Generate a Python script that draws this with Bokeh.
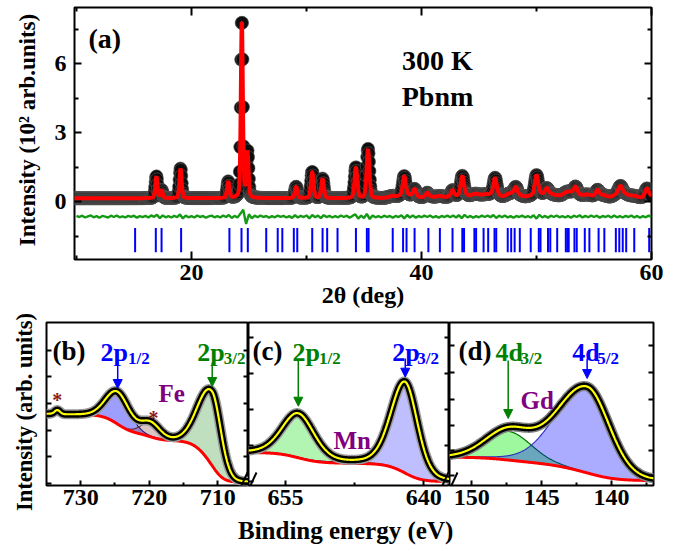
import numpy as np
from bokeh.plotting import figure
from bokeh.models import (Range1d, LinearAxis, FixedTicker, Label, Arrow, NormalHead,
                          CustomJSTickFormatter, Div)
from bokeh.layouts import column, row
from bokeh.embed import file_html
from bokeh.resources import INLINE

FONT = "Liberation Serif"

# ---------------- (a) XRD data ----------------
xrd_peak_pos    = [16.95, 17.40, 19.05, 23.20, 24.38, 24.87, 29.10, 30.50, 31.40, 34.30, 35.35,
                   38.50, 39.40, 40.50, 42.70, 43.55, 46.40, 48.20, 50.00, 50.90, 53.40, 55.30, 57.30, 59.60]
xrd_peak_height = [0.95, 0.35, 1.30, 0.72, 7.85, 2.00, 0.50, 1.15, 0.85, 1.35, 2.15,
                   0.80, 0.30, 0.15, 0.25, 0.80, 0.70, 0.30, 0.85, 0.25, 0.30, 0.25, 0.30, 0.35]
xrd_peak_fwhm   = [0.22, 0.22, 0.22, 0.24, 0.20, 0.22, 0.26, 0.26, 0.26, 0.28, 0.28,
                   0.30, 0.30, 0.30, 0.30, 0.32, 0.32, 0.32, 0.34, 0.34, 0.36, 0.36, 0.38, 0.38]
xrd_background = 0.15
bragg_pos = [15.1, 16.9, 17.4, 19.1, 23.3, 24.35, 24.9, 26.5, 27.5, 27.9, 28.9, 29.2, 30.5, 31.4,
             31.8, 32.7, 34.3, 35.25, 35.4, 37.5, 38.4, 38.7, 39.4, 40.6, 41.6, 42.7, 43.55, 43.7,
             44.6, 44.75, 45.4, 45.8, 46.35, 46.5, 47.5, 47.8, 48.1, 48.55, 49.5, 50.2, 50.35,
             51.0, 51.2, 51.8, 52.55, 52.7, 52.8, 53.3, 53.5, 54.2, 54.6, 55.4, 55.9, 56.9, 57.2,
             57.5, 57.8, 58.5, 59.8]
weak_refl_height = 0.09
weak_refl_fwhm = 0.8
weak_refl_from = 36.5

# difference curve (obs - calc), hundredths, every 0.25 deg from 10 deg
diff_start = 10.0
diff_step = 0.25
diff_offset = -0.65
diff_vals = [3, -2, 4, -4, 1, 5, -3, 2, -5, 3, 0, -4, 4, -2, 5, -3, 1, -4, 3, -1, 4, -5, 2, -2, 3, -4, 5, -1,
             8, -7, 5, -3, 2, -4, 3, -2, 9, -8, 4, -3,
             2, -4, 5, -2, 3, -5, 1, 4, -3, 2, -4, 5, -2,
             7, -6, 3, -4, 12, 30, -32, 10, -8, 4,
             -3, 5, -2, 3, -5, 2, -3, 4, -1, 3, -4, 2,
             -6, 6, -4, 3, -2, 5, -8, 7, -3, 4, -7, 6, -2,
             3, -4, 2, -3, 5, -2, 4, -5, 3,
             10, -9, 4, -6, 12, -11, 5, -3,
             2, -4, 4, -2, 3, -5, 3, -2, 6,
             -8, 7, -4, 5, -5, 3,
             -3, 4, -2, 5, -4, 2, -5, 3, -2, 4, -3, 5, -4,
             6, -7, 8, -4,
             3, -5, 2, -3, 4, -2, 5, -3,
             7, -6, 4,
             -3, 5, -4, 2, -5, 3, -2, 4, -3, 2, -4,
             6, -9, 8, -4,
             3, -5, 4, -2, 5, -3, 2, -4, 3, -5, 4, -2, 6, -4, 3, -3, 5, -2, 4, -5, 3, -2, 4, -4,
             5, -3, 2, -4, 3, -2, 5, -4, 3, -5, 2, -3, 4, -2]

# ---------------- XPS data ----------------
fe_center = [710.8, 724.6, 719.8, 733.4]
fe_height = [74.0, 32.0, 14.0, 4.0]
fe_sig_hi = [2.0, 1.7, 1.4, 0.4]
fe_sig_lo = [1.3, 1.7, 1.4, 0.4]
fe_bg = [3.3, 71.5]

mn_center = [653.6, 642.0]
mn_height = [44.0, 91.0]
mn_sig_hi = [1.75, 1.55]
mn_sig_lo = [1.75, 1.35]
mn_bg = [4.0, 33.0]

gd_center = [147.4, 141.75]
gd_height = [28.7, 86.0]
gd_sig_hi = [1.65, 2.2]
gd_sig_lo = [1.65, 1.6]
gd_bg = [5.0, 28.3]


def pseudo_voigt(x, x0, h, fwhm, eta):
    d2 = ((x - x0) / (0.5 * fwhm)) ** 2
    return h * (eta / (1.0 + d2) + (1.0 - eta) * np.exp(-np.log(2.0) * d2))


def asym_component(E, c, h, s_hi, s_lo, eta):
    s = np.where(E >= c, s_hi, s_lo)
    hw = s * np.sqrt(2.0 * np.log(2.0))
    d2 = ((E - c) / hw) ** 2
    return h * (eta / (1.0 + d2) + (1.0 - eta) * np.exp(-np.log(2.0) * d2))


def shirley(E, signal, lo, hi):
    cum = np.concatenate([[0.0], np.cumsum(0.5 * (signal[1:] + signal[:-1]) * np.diff(E))])
    return lo + (hi - lo) * cum / cum[-1]


def style_axis(ax, major_in, minor_in, show_labels, size="24px", standoff=6):
    ax.axis_line_color = None
    ax.major_tick_in = major_in
    ax.major_tick_out = 0
    ax.minor_tick_in = minor_in
    ax.minor_tick_out = 0
    ax.major_tick_line_color = "black"
    ax.minor_tick_line_color = "black"
    ax.major_tick_line_width = 2
    ax.minor_tick_line_width = 2
    if show_labels:
        ax.major_label_text_font = FONT
        ax.major_label_text_font_style = "bold"
        ax.major_label_text_font_size = size
        ax.major_label_text_color = "black"
        ax.major_label_standoff = standoff
    else:
        ax.formatter = CustomJSTickFormatter(code="return '';")
        ax.major_label_standoff = 0


def add_label(p, x, y, text, size, color="black", align="left", baseline="alphabetic"):
    p.add_layout(Label(x=x, y=y, text=text, text_font=FONT, text_font_size=size,
                       text_font_style="bold", text_color=color, text_align=align,
                       text_baseline=baseline))


LEFT = 44  # width of the left strip holding the rotated y-axis titles

# ================= panel (a) =================
XA0, XA1, YA0, YA1 = 9.83, 60.0, -2.52, 8.46
pa = figure(width=689 - LEFT, height=320, x_range=Range1d(XA0, XA1), y_range=Range1d(YA0, YA1),
            output_backend="svg", toolbar_location=None,
            min_border_left=74 - LEFT, min_border_right=38, min_border_top=7, min_border_bottom=61)
pa.grid.visible = False
pa.outline_line_color = "black"
pa.outline_line_width = 2

def ax_(px):
    return XA0 + (px - 74) * (XA1 - XA0) / 577.0

def ay_(py):
    return YA1 - (py - 7) * (YA1 - YA0) / 252.0

tt = np.arange(9.8, 60.02, 0.04)
y_calc = np.full(tt.shape, xrd_background)
for x0, h, w in zip(xrd_peak_pos, xrd_peak_height, xrd_peak_fwhm):
    y_calc += pseudo_voigt(tt, x0, h, w, 0.3)
for x0 in bragg_pos:
    if x0 >= weak_refl_from:
        y_calc += pseudo_voigt(tt, x0, weak_refl_height, weak_refl_fwhm, 0.0)

diff_x = diff_start + diff_step * np.arange(len(diff_vals))
diff_y = diff_offset + np.array(diff_vals) / 100.0

pa.scatter(tt, y_calc, size=13, marker="circle", fill_color="#0d0d0d", line_color="#5a5a5a", line_width=0.6)
pa.line(tt, y_calc, line_color="#ff0000", line_width=4)
pa.line(diff_x, diff_y, line_color="#159a15", line_width=2.4)
pa.segment(x0=bragg_pos, y0=-1.15, x1=bragg_pos, y1=-2.2, line_color="#0000ff", line_width=2)

pa.xaxis.ticker = FixedTicker(ticks=[20, 40, 60], minor_ticks=[10, 30, 50])
pa.yaxis.ticker = FixedTicker(ticks=[0, 3, 6], minor_ticks=[-1.5, 1.5, 4.5, 7.5])
style_axis(pa.xaxis[0], 8, 4, True, "24px", 5)
style_axis(pa.yaxis[0], 7, 4, True, "24px", 8)
pa.xaxis.axis_label = "2\u03b8 (deg)"
pa.xaxis.axis_label_text_font = FONT
pa.xaxis.axis_label_text_font_style = "bold"
pa.xaxis.axis_label_text_font_size = "24px"
pa.xaxis.axis_label_text_color = "black"
pa.xaxis.axis_label_standoff = -1
ta = LinearAxis(ticker=FixedTicker(ticks=[20, 40, 60], minor_ticks=[10, 30, 50]))
style_axis(ta, 8, 4, False)
pa.add_layout(ta, "above")
ra = LinearAxis(ticker=FixedTicker(ticks=[0, 3, 6], minor_ticks=[-1.5, 1.5, 4.5, 7.5]))
style_axis(ra, 7, 4, False)
pa.add_layout(ra, "right")

add_label(pa, ax_(88), ay_(38), "(a)", "28px")
add_label(pa, ax_(437), ay_(60), "300 K", "28px", align="center")
add_label(pa, ax_(437), ay_(96), "Pbnm", "28px", align="center")

# ================= XPS panels =================
FR_BOT = 485

def yy(py):
    return FR_BOT - py


def xps_panel(width, mb_left, mb_right, x0, x1, xticks, xminor, yticks):
    p = figure(width=width, height=198, x_range=Range1d(x0, x1), y_range=Range1d(0, 163),
               output_backend="svg", toolbar_location=None,
               min_border_left=mb_left, min_border_right=mb_right, min_border_top=2, min_border_bottom=33)
    p.grid.visible = False
    p.outline_line_color = "black"
    p.outline_line_width = 2
    p.xaxis.ticker = FixedTicker(ticks=xticks, minor_ticks=xminor)
    style_axis(p.xaxis[0], 5, 3, True, "24px", 4)
    p.yaxis.ticker = FixedTicker(ticks=yticks, minor_ticks=[])
    style_axis(p.yaxis[0], 5, 3, False)
    r = LinearAxis(ticker=FixedTicker(ticks=yticks, minor_ticks=[]))
    style_axis(r, 5, 3, False)
    p.add_layout(r, "right")
    return p


def draw_xps(p, E, comps, fills, lines, alphas, bg, halo="#9a9a9a"):
    total = np.sum(comps, axis=0)
    for c, fc, lc, al in zip(comps, fills, lines, alphas):
        if fc is None:
            continue
        p.varea(x=E, y1=bg, y2=bg + c, fill_color=fc, fill_alpha=al)
        p.line(E, bg + c, line_color=lc, line_width=1.2)
    p.line(E, bg, line_color="#ff0000", line_width=3)
    env = bg + total
    p.line(E, env, line_color=halo, line_width=10)
    p.line(E, env, line_color="black", line_width=7)
    p.line(E, env, line_color="#ffff00", line_width=2.2)


def slash(p, conv, px0, px1):
    p.segment(x0=[conv(px0)], y0=[yy(487)], x1=[conv(px1)], y1=[yy(472)], line_color="black", line_width=2)


# (b) Fe 2p
B0, B1 = 735.0, 705.5
pb = xps_panel(248 - LEFT, 46 - LEFT, 0, B0, B1, [730, 720, 710], [725, 715], [2, 28.7, 55.4, 82.1, 108.8, 135.5])

def bx(px):
    return B0 + (px - 46) * (B1 - B0) / 202.0

E_b = np.arange(705.5, 735.01, 0.05)
comps_b = [asym_component(E_b, c, h, sh, sl, 0.1) for c, h, sh, sl in zip(fe_center, fe_height, fe_sig_hi, fe_sig_lo)]
bg_b = shirley(E_b, np.sum(comps_b, axis=0), fe_bg[0], fe_bg[1])
draw_xps(pb, E_b, comps_b, ["#008000", "#0000ff", "#8b3a3a", None],
         ["#006400", "#00008b", "#6b2a2a", None], [0.25, 0.38, 0.3, 0], bg_b)

# (c) Mn 2p
C0, C1 = 659.0, 637.2
pc = xps_panel(201, 0, 0, C0, C1, [655, 640], [647.5], [4.5, 40.5, 76.5, 112.5, 148.5])

def cx(px):
    return C0 + (px - 248) * (C1 - C0) / 201.0

E_c = np.arange(637.2, 659.01, 0.05)
comps_c = [asym_component(E_c, c, h, sh, sl, 0.25) for c, h, sh, sl in zip(mn_center, mn_height, mn_sig_hi, mn_sig_lo)]
bg_c = shirley(E_c, np.sum(comps_c, axis=0), mn_bg[0], mn_bg[1])
draw_xps(pc, E_c, comps_c, ["#00dd00", "#0000ff"], ["#006400", "#00008b"], [0.3, 0.25], bg_c)

# (d) Gd 4d
D0, D1 = 151.6, 137.0
pd_ = xps_panel(240, 0, 36, D0, D1, [150, 145, 140], [147.5, 142.5, 137.5], [10, 35, 60, 86, 113, 140])

def dx(px):
    return D0 + (px - 449) * (D1 - D0) / 204.0

E_d = np.arange(137.0, 151.61, 0.03)
comps_d = [asym_component(E_d, c, h, sh, sl, 0.1) for c, h, sh, sl in zip(gd_center, gd_height, gd_sig_hi, gd_sig_lo)]
bg_d = shirley(E_d, np.sum(comps_d, axis=0), gd_bg[0], gd_bg[1])
draw_xps(pd_, E_d, comps_d, ["#00ee00", "#0000ff"], ["#007000", "#3030c0"], [0.38, 0.33], bg_d, halo="#808080")

BLUE, GREEN, PURPLE, DARKRED = "#0000ff", "#008000", "#800080", "#8b1a1a"

def arrow(p, x, y0, y1, color):
    p.add_layout(Arrow(end=NormalHead(size=9, fill_color=color, line_color=color, line_width=1),
                       x_start=x, y_start=y0, x_end=x, y_end=y1, line_color=color, line_width=1.5))

# labels (b)
add_label(pb, bx(52), yy(350), "(b)", "27px")
add_label(pb, bx(100), yy(352), "2p", "26px", BLUE)
add_label(pb, bx(127.5), yy(357.5), "1/2", "17px", BLUE)
add_label(pb, bx(196.7), yy(352), "2p", "26px", GREEN)
add_label(pb, bx(223.3), yy(357.5), "3/2", "17px", GREEN)
add_label(pb, bx(158), yy(393), "Fe", "25px", PURPLE)
add_label(pb, bx(56.7), yy(399), "*", "20px", DARKRED, align="center")
add_label(pb, bx(153), yy(417), "*", "20px", DARKRED, align="center")
arrow(pb, fe_center[1], yy(362), yy(388), BLUE)
arrow(pb, fe_center[0], yy(362), yy(386), GREEN)

# labels (c)
add_label(pc, cx(252), yy(350), "(c)", "27px")
add_label(pc, cx(292), yy(352), "2p", "26px", GREEN)
add_label(pc, cx(318.5), yy(357.5), "1/2", "17px", GREEN)
add_label(pc, cx(391.7), yy(352), "2p", "26px", BLUE)
add_label(pc, cx(416.7), yy(357.5), "3/2", "17px", BLUE)
add_label(pc, cx(333), yy(440), "Mn", "25px", PURPLE)
arrow(pc, mn_center[0], yy(360), yy(405.7), GREEN)
arrow(pc, mn_center[1], yy(358), yy(376.7), BLUE)

# labels (d)
add_label(pd_, dx(458), yy(350), "(d)", "27px")
add_label(pd_, dx(495), yy(352), "4d", "26px", GREEN)
add_label(pd_, dx(520), yy(357.5), "3/2", "17px", GREEN)
add_label(pd_, dx(571.7), yy(352), "4d", "26px", BLUE)
add_label(pd_, dx(596.7), yy(357.5), "5/2", "17px", BLUE)
add_label(pd_, dx(520), yy(400), "Gd", "25px", PURPLE)
arrow(pd_, gd_center[0], yy(360), yy(418), GREEN)
arrow(pd_, gd_center[1], yy(358), yy(378), BLUE)

# axis break marks "//" at the panel joins
slash(pb, bx, 240, 247)
slash(pc, cx, 249, 256)
slash(pc, cx, 441, 448)
slash(pd_, dx, 450, 457)

ylab_div = Div(text=(
    "<div style=\"position:relative;width:%dpx;height:551px;font-family:'Liberation Serif';"
    "font-weight:bold;color:black;\">"
    "<div style=\"position:absolute;left:27px;top:130px;transform:translate(-50%%,-50%%) rotate(-90deg);"
    "white-space:nowrap;font-size:23px;line-height:23px;\">Intensity (10\u00b2 arb.units)</div>"
    "<div style=\"position:absolute;left:25px;top:412px;transform:translate(-50%%,-50%%) rotate(-90deg);"
    "white-space:nowrap;font-size:22.5px;line-height:22px;\">Intensity (arb. units)</div>"
    "</div>") % LEFT, width=LEFT, height=551, margin=0)

xlab_div = Div(text="<div style=\"padding-left:%dpx; font-family:'Liberation Serif'; font-weight:bold; "
                    "font-size:25px; line-height:26px; white-space:nowrap; color:black\">Binding energy (eV)</div>"
                    % (238 - LEFT),
               width=689 - LEFT, height=33, margin=0)

layout = row(ylab_div, column(pa, row(pb, pc, pd_, spacing=0), xlab_div, spacing=0), spacing=0)
open("out.html", "w").write(file_html(layout, INLINE))
